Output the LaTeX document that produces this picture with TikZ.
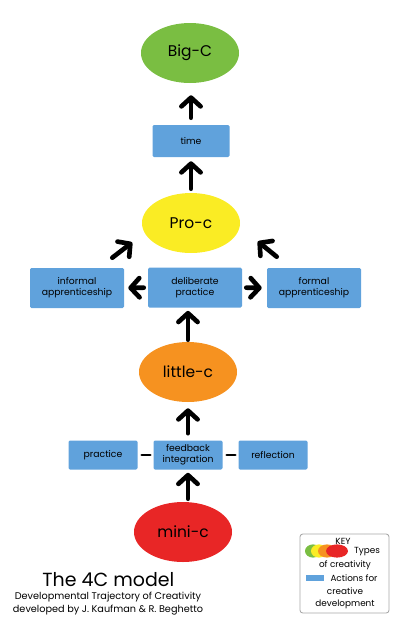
\documentclass[tikz,border=0pt]{standalone}
\usepackage{fontspec}
\setmainfont{Poppins}
\usetikzlibrary{arrows.meta,positioning,shapes.geometric}
\definecolor{cgreen}{RGB}{122,190,66}
\definecolor{cyellow}{RGB}{250,236,36}
\definecolor{corange}{RGB}{246,146,32}
\definecolor{cred}{RGB}{232,38,38}
\definecolor{actblue}{RGB}{96,162,220}

\begin{document}
\begin{tikzpicture}[
 font=\fontsize{6.6}{7.7}\selectfont,
 kind/.style={ellipse,minimum width=2.45cm,minimum height=1.5cm,inner sep=0pt,font=\fontsize{11}{13}\selectfont},
 act/.style={fill=actblue,rounded corners=1pt,align=center,inner sep=0pt,minimum width=2.35cm,minimum height=1cm},
 small/.style={act,minimum width=1.725cm,minimum height=0.725cm},
 flow/.style={-{Straight Barb[length=2.2mm,width=4.8mm,round]},line width=3.3pt,line cap=round},
 link/.style={line width=2pt,line cap=round},
 keytext/.style={font=\fontsize{6.3}{7.3}\selectfont,inner sep=0pt},
 dot/.style={ellipse,inner sep=0pt,minimum height=0.33cm}
]
\useasboundingbox (0,0) rectangle (10,-15.55);
\node[kind,fill=cgreen] (bigc) at (4.75,-1.325) {Big-C};
\node[act,minimum width=1.925cm,minimum height=0.8cm] (time) at (4.775,-3.525) {time};
\node[kind,fill=cyellow] (proc) at (4.775,-5.575) {Pro-c};
\node[act] (informal) at (1.925,-7.2) {informal\\apprenticeship};
\node[act] (deliberate) at (4.875,-7.19) {deliberate\\practice};
\node[act] (formal) at (7.85,-7.2) {formal\\apprenticeship};
\node[kind,fill=corange] (littlec) at (4.7,-9.3) {little-c};
\node[small] (practice) at (2.575,-11.375) {practice};
\node[small] (feedback) at (4.7,-11.375) {feedback\\integration};
\node[small] (reflection) at (6.825,-11.375) {reflection};
\node[kind,fill=cred] (minic) at (4.575,-13.3) {mini-c};
\draw[flow,shorten <=0.175cm,shorten >=0.3cm] (time.north) -- (time.north |- bigc.south);
\draw[flow,shorten <=0.1cm,shorten >=0.1cm] (proc.north) -- (proc.north |- time.south);
\draw[flow] ([shift={(-0.3,0.25)}]informal.north east) -- ([shift={(-0.6,0.05)}]proc.south west);
\draw[flow] ([shift={(0.25,0.275)}]formal.north west) -- ([shift={(0.8,0.075)}]proc.south east);
\draw[flow,shorten <=0.1cm,shorten >=0.1cm] (deliberate.west) -- (informal.east);
\draw[flow,shorten <=0.1cm,shorten >=0.125cm] (deliberate.east) -- (formal.west);
\draw[flow,shorten <=0.05cm,shorten >=0.075cm] (littlec.north) -- (littlec.north |- deliberate.south);
\draw[flow,shorten <=0.175cm,shorten >=0.15cm] (feedback.north) -- (feedback.north |- littlec.south);
\draw[flow,shorten <=0.075cm,shorten >=0.075cm] (feedback.south |- minic.north) -- (feedback.south);
\draw[link,shorten <=0.1cm,shorten >=0.075cm] (practice) -- (feedback);
\draw[link,shorten <=0.1cm,shorten >=0.075cm] (feedback) -- (reflection);
\node[font=\fontsize{13.5}{16}\selectfont,inner sep=0pt] (title) at (2.71,-14.5) {The 4C model};
\node[font=\fontsize{6.9}{8}\selectfont,inner sep=0pt] (subtitle) at (2.7,-14.925) {Developmental Trajectory of Creativity};
\node[font=\fontsize{6.9}{8}\selectfont,inner sep=0pt] (credit) at (2.7,-15.25) {developed by J. Kaufman \& R. Beghetto};
\node[draw=gray!70,line width=0.6pt,rounded corners=2pt,minimum width=2.225cm,minimum height=1.975cm] (key) at (8.6125,-14.3375) {};
\node[keytext] (keylabel) at (8.575,-13.525) {KEY};
\node[dot,fill=cgreen,minimum width=0.4cm] (kgreen) at (7.825,-13.775) {};
\node[dot,fill=cyellow,minimum width=0.4cm] (kyellow) at (7.975,-13.775) {};
\node[dot,fill=corange,minimum width=0.45cm] (korange) at (8.175,-13.775) {};
\node[dot,fill=cred,minimum width=0.55cm] (kred) at (8.425,-13.775) {};
\node[keytext] (types) at (9.175,-13.8) {Types};
\node[keytext] (ofcreat) at (8.625,-14.125) {of creativity};
\node[fill=actblue,inner sep=0pt,minimum width=0.45cm,minimum height=0.15cm] (kblue) at (7.875,-14.45) {};
\node[keytext] (actions) at (8.85,-14.45) {Actions for};
\node[keytext] (creative) at (8.625,-14.775) {creative};
\node[keytext] (develop) at (8.625,-15.1) {development};
\end{tikzpicture}
\end{document}
